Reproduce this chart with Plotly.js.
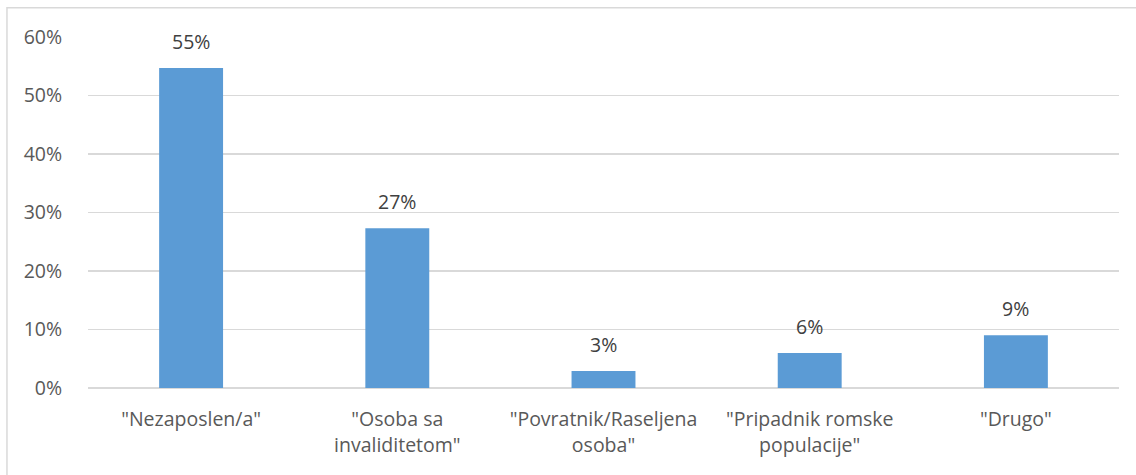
<!DOCTYPE html>
<html>
<head>
<meta charset="utf-8">
<script src="https://cdn.plot.ly/plotly-3.0.1.min.js"></script>
<style>
  html, body { margin: 0; padding: 0; background: #ffffff; }
  #chart { width: 1136px; height: 475px; }
</style>
</head>
<body>
<div id="chart"></div>
<script>
// Respondent status categories and their shares
const categories = [
  '"Nezaposlen/a"',
  '"Osoba sa<br>invaliditetom"',
  '"Povratnik/Raseljena<br>osoba"',
  '"Pripadnik romske<br>populacije"',
  '"Drugo"'
];
const shares = [0.547, 0.273, 0.029, 0.060, 0.090];
const yTickValues = [0, 0.1, 0.2, 0.3, 0.4, 0.5, 0.6];

const textColor = '#595959';
const fontFamily = '"Open Sans", "Liberation Sans", sans-serif';
const fontSize = 19.5;

const trace = {
  type: 'bar',
  x: categories,
  y: shares,
  marker: { color: '#5b9bd5' },
  hoverinfo: 'skip'
};

// Value labels above each bar
const valueLabels = categories.map((c, i) => ({
  x: c,
  y: shares[i],
  xref: 'x',
  yref: 'y',
  text: Math.round(shares[i] * 100) + '%',
  showarrow: false,
  yanchor: 'bottom',
  yshift: 11,
  font: { family: fontFamily, size: fontSize, color: '#404040' }
}));

const layout = {
  width: 1136,
  height: 475,
  margin: { l: 88, r: 17, t: 37, b: 87 },
  paper_bgcolor: '#ffffff',
  plot_bgcolor: '#ffffff',
  showlegend: false,
  bargap: 0.69,
  font: { family: fontFamily, size: fontSize, color: textColor },
  xaxis: {
    type: 'category',
    showgrid: false,
    zeroline: false,
    showline: false,
    ticks: 'outside',
    ticklen: 14,
    tickcolor: 'rgba(0,0,0,0)',
    tickfont: { family: fontFamily, size: fontSize, color: textColor }
  },
  yaxis: {
    range: [0, 0.6],
    tickvals: yTickValues,
    tickformat: '.0%',
    showgrid: true,
    gridcolor: '#d9d9d9',
    gridwidth: 1.5,
    zeroline: true,
    zerolinecolor: '#d9d9d9',
    zerolinewidth: 1.5,
    showline: false,
    ticks: 'outside',
    ticklen: 21,
    tickcolor: 'rgba(0,0,0,0)',
    tickfont: { family: fontFamily, size: fontSize, color: textColor }
  },
  annotations: valueLabels,
  shapes: [
    {
      type: 'path',
      xref: 'paper', yref: 'paper',
      path: 'M -0.0786,-0.26 L -0.0786,1.0835 L 1.02,1.0835',
      line: { color: '#d9d9d9', width: 1.5 }
    }
  ]
};

Plotly.newPlot('chart', [trace], layout, { displayModeBar: false, staticPlot: true });
</script>
</body>
</html>
